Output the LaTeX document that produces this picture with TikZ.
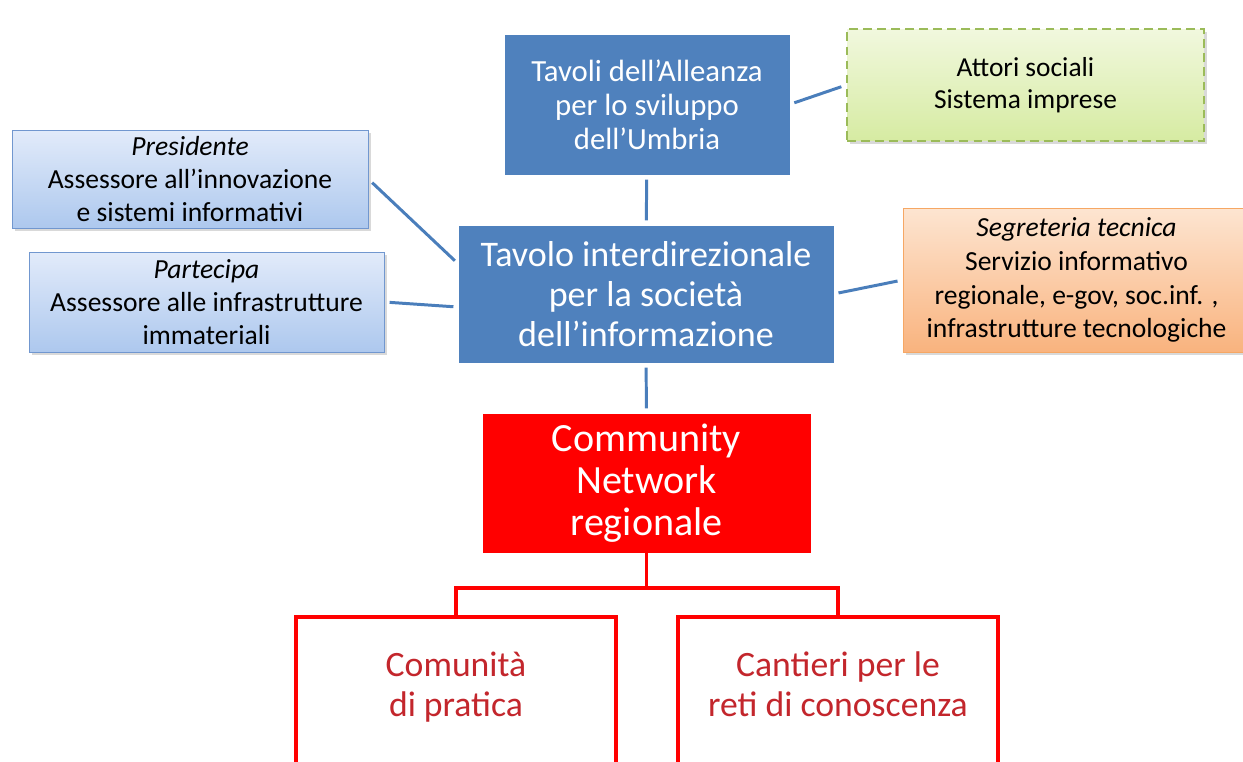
\documentclass[tikz,border=0pt]{standalone}
\usepackage{fontspec}
\setmainfont{Carlito}
\usetikzlibrary{shadows}

\definecolor{tblue}{HTML}{4F81BD}
\definecolor{tline}{HTML}{4A7EBB}
\definecolor{ltop}{HTML}{E2EBFA}
\definecolor{lbot}{HTML}{ADC8EE}
\definecolor{lbord}{HTML}{7197CF}
\definecolor{gtop}{HTML}{F1F8DE}
\definecolor{gbot}{HTML}{D6EBA2}
\definecolor{gbord}{HTML}{9BBB59}
\definecolor{otop}{HTML}{FDE5D1}
\definecolor{obot}{HTML}{F9B37E}
\definecolor{obord}{HTML}{F6A764}
\definecolor{tred}{HTML}{FF0000}
\definecolor{kidtext}{HTML}{C3262C}

\newcommand{\kidlines}[2]{\raisebox{0.15cm}[\height][\depth]{\begin{tabular}{@{}c@{}}#1\\#2\end{tabular}}}

\begin{document}
\begin{tikzpicture}[x=0.02cm, y=-0.02cm,
  box/.style={rectangle, align=center, inner sep=0pt},
  darkbox/.style={box, fill=tblue, draw=tblue, text=white},
  lightbox/.style={box, draw=lbord, top color=ltop, bottom color=lbot,
    drop shadow={opacity=0.3, shadow xshift=1.5pt, shadow yshift=-1.5pt}},
  greenbox/.style={box, draw=gbord, dash pattern=on 5pt off 3pt, line width=0.8pt,
    top color=gtop, bottom color=gbot,
    drop shadow={opacity=0.3, shadow xshift=1.5pt, shadow yshift=-1.5pt}},
  orangebox/.style={box, draw=obord, top color=otop, bottom color=obot,
    drop shadow={opacity=0.3, shadow xshift=1.5pt, shadow yshift=-1.5pt}},
  redbox/.style={box, fill=tred, draw=tred, text=white},
  kidbox/.style={box, draw=tred, line width=2pt, fill=white, text=kidtext},
  link/.style={draw=tline, line width=1.7pt, shorten <=3pt, shorten >=3pt},
  redlink/.style={draw=tred, line width=2.2pt}]

\useasboundingbox (0,0) rectangle (1243,761);
\clip (0,0) rectangle (1243,761);

\node[darkbox, minimum width=5.68cm, minimum height=2.78cm,
  font=\fontsize{17.5}{19.3}\selectfont] (alleanza) at (647,104.5)
  {Tavoli dell’Alleanza\\per lo sviluppo\\dell’Umbria};
\node[greenbox, minimum width=7.14cm, minimum height=2.24cm,
  font=\fontsize{15.6}{18.1}\selectfont] (attori) at (1025.5,85)
  {Attori sociali\\Sistema imprese};
\node[lightbox, minimum width=7.12cm, minimum height=1.96cm,
  font=\fontsize{15.7}{18.7}\selectfont] (presidente) at (190,179)
  {\textit{Presidente}\\Assessore all’innovazione\\e sistemi informativi};
\node[lightbox, minimum width=7.10cm, minimum height=2.0cm,
  font=\fontsize{15.7}{18.7}\selectfont] (partecipa) at (206.5,302)
  {\textit{Partecipa}\\Assessore alle infrastrutture\\immateriali};
\node[darkbox, minimum width=7.48cm, minimum height=2.72cm,
  font=\fontsize{20.5}{22.7}\selectfont] (tavolo) at (646,294)
  {Tavolo interdirezionale\\per la società\\dell’informazione};
\node[orangebox, minimum width=6.94cm, minimum height=2.88cm,
  font=\fontsize{15.7}{19.3}\selectfont] (segreteria) at (1076.5,280)
  {\textit{Segreteria tecnica}\\Servizio informativo\\regionale, e-gov, soc.inf. ,\\infrastrutture tecnologiche};
\node[redbox, minimum width=6.54cm, minimum height=2.76cm,
  font=\fontsize{22.8}{23.8}\selectfont] (network) at (646.5,483)
  {Community\\Network\\regionale};
\node[kidbox, minimum width=6.4cm, minimum height=3.16cm,
  font=\fontsize{20.3}{22.7}\selectfont] (comunita) at (456,696)
  {\kidlines{Comunità}{di pratica}};
\node[kidbox, minimum width=6.4cm, minimum height=3.16cm,
  font=\fontsize{20.3}{22.7}\selectfont] (cantieri) at (838,696)
  {\kidlines{Cantieri per le}{reti di conoscenza}};

\draw[link] (alleanza) -- (tavolo);
\draw[link] (alleanza.east) -- (attori.west);
\draw[link] (presidente.east) -- (tavolo.171);
\draw[link] (partecipa.east) -- (tavolo.184);
\draw[link] (tavolo.east) -- (segreteria.west);
\draw[link] (tavolo) -- (network);

\draw[redlink] (network.south) -- ++(0,36) coordinate (fork) -| (comunita.north);
\draw[redlink] (fork) -| (cantieri.north);

\end{tikzpicture}
\end{document}
